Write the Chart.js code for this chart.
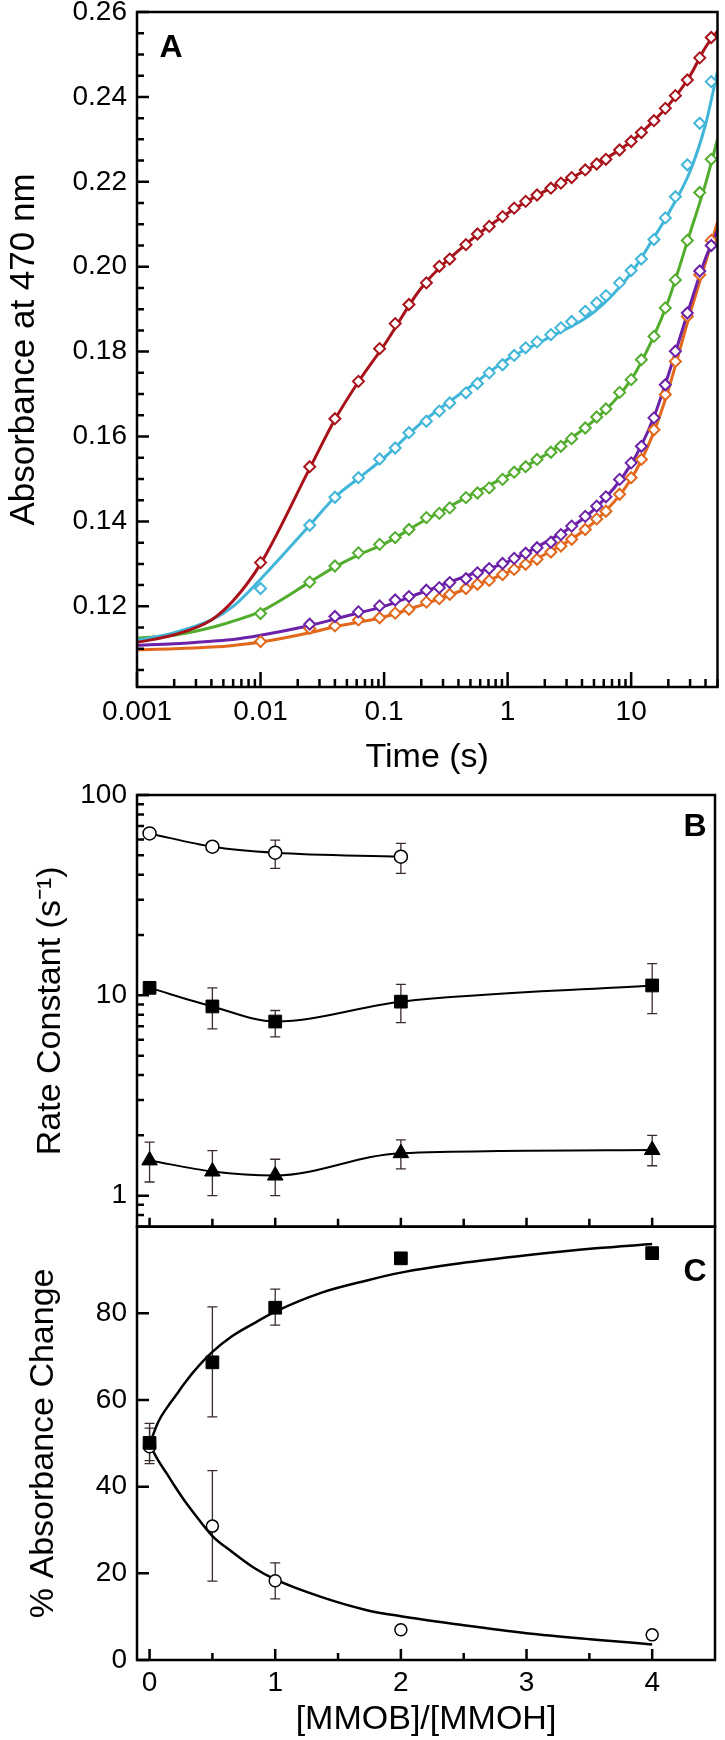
<!DOCTYPE html>
<html>
<head>
<meta charset="utf-8">
<script src="https://cdn.jsdelivr.net/npm/chart.js@4.4.1/dist/chart.umd.min.js"></script>
<style>
  html, body { margin: 0; padding: 0; background: #fff; }
  body { width: 725px; height: 1740px; position: relative; overflow: hidden; }
  canvas { position: absolute; left: 0; }
  #chartA { top: 0; }
  #chartB { top: 780px; }
  #chartC { top: 1215px; }
</style>
</head>
<body>
<canvas id="chartA" width="725" height="790"></canvas>
<canvas id="chartB" width="725" height="460"></canvas>
<canvas id="chartC" width="725" height="525"></canvas>
<script>
// ---- Panel A: absorbance traces (time in s) ----
const timePts = [0.01, 0.025, 0.04, 0.062, 0.092, 0.123, 0.159, 0.22, 0.28, 0.34, 0.46, 0.57, 0.71, 0.91, 1.13, 1.4,
                 1.73, 2.24, 2.7, 3.3, 4.25, 5.26, 6.25, 8.06, 10, 12.1, 15.3, 18.9, 22.8, 28.5, 35.9, 44.5];
const absRed    = [0.1303, 0.1529, 0.1642, 0.1730, 0.1807, 0.1866, 0.1911, 0.1962, 0.2001, 0.2018, 0.2052, 0.2077, 0.2095, 0.2118, 0.2138, 0.2154,
                   0.2169, 0.2185, 0.2197, 0.2210, 0.2228, 0.2242, 0.2253, 0.2275, 0.2295, 0.2316, 0.2344, 0.2373, 0.2403, 0.2440, 0.2492, 0.2540];
const absCyan   = [0.1242, 0.1391, 0.1457, 0.1503, 0.1547, 0.1573, 0.1609, 0.1636, 0.1660, 0.1679, 0.1703, 0.1725, 0.1750, 0.1769, 0.1791, 0.1809,
                   0.1823, 0.1840, 0.1856, 0.1871, 0.1895, 0.1915, 0.1932, 0.1962, 0.1991, 0.2018, 0.2064, 0.2115, 0.2165, 0.2240, 0.2338, 0.2436];
const absGreen  = [0.1183, 0.1257, 0.1295, 0.1326, 0.1346, 0.1362, 0.1381, 0.1409, 0.1419, 0.1432, 0.1456, 0.1467, 0.1479, 0.1499, 0.1516, 0.1529,
                   0.1546, 0.1563, 0.1577, 0.1595, 0.1620, 0.1646, 0.1665, 0.1704, 0.1734, 0.1781, 0.1836, 0.1903, 0.1969, 0.2062, 0.2175, 0.2253];
const absPurple = [null,   0.1158, 0.1176, 0.1187, 0.1201, 0.1215, 0.1223, 0.1238, 0.1244, 0.1256, 0.1265, 0.1279, 0.1289, 0.1301, 0.1313, 0.1325,
                   0.1338, 0.1351, 0.1369, 0.1389, 0.1412, 0.1436, 0.1458, 0.1499, 0.1538, 0.1577, 0.1644, 0.1722, 0.1801, 0.1891, 0.1990, 0.2050];
const absOrange = [0.1117, 0.1148, 0.1154, 0.1168, 0.1173, 0.1184, 0.1193, 0.1210, 0.1218, 0.1228, 0.1242, 0.1252, 0.1261, 0.1275, 0.1287, 0.1299,
                   0.1311, 0.1328, 0.1342, 0.1358, 0.1381, 0.1406, 0.1424, 0.1464, 0.1503, 0.1546, 0.1616, 0.1699, 0.1777, 0.1883, 0.1981, 0.2062];

// fitted curves
const fitTimes  = [0.001, 0.002, 0.004, 0.006, 0.01, 0.025, 0.04, 0.063, 0.1, 0.2, 0.5, 1, 2, 5, 10, 15, 20, 30, 40, 50];
const fitRed    = [0.1115, 0.1133, 0.1168, 0.1213, 0.1300, 0.1525, 0.1640, 0.1732, 0.1815, 0.1950, 0.2062, 0.2126, 0.2178, 0.2238, 0.2295, 0.2342, 0.2380, 0.2450, 0.2517, 0.2555];
const fitCyan   = [0.1120, 0.1138, 0.1168, 0.1200, 0.1264, 0.1391, 0.1457, 0.1503, 0.1550, 0.1632, 0.1718, 0.1782, 0.1828, 0.1893, 0.1985, 0.2065, 0.2125, 0.2225, 0.2335, 0.2460];
const fitGreen  = [0.1125, 0.1132, 0.1150, 0.1165, 0.1188, 0.1257, 0.1293, 0.1322, 0.1347, 0.1398, 0.1462, 0.1508, 0.1556, 0.1638, 0.1734, 0.1832, 0.1920, 0.2080, 0.2195, 0.2300];
const fitPurple = [0.1108, 0.1112, 0.1118, 0.1122, 0.1132, 0.1155, 0.1170, 0.1185, 0.1200, 0.1232, 0.1275, 0.1305, 0.1350, 0.1428, 0.1535, 0.1640, 0.1745, 0.1910, 0.2020, 0.2085];
const fitOrange = [0.1098, 0.1100, 0.1104, 0.1108, 0.1116, 0.1138, 0.1152, 0.1163, 0.1175, 0.1203, 0.1245, 0.1280, 0.1322, 0.1398, 0.1500, 0.1605, 0.1710, 0.1890, 0.2010, 0.2105];

const timeTickLabels = [0.001, 0.01, 0.1, 1, 10];
const absTickLabels = [0.12, 0.14, 0.16, 0.18, 0.20, 0.22, 0.24, 0.26];

// ---- Panel B: rate constants vs [MMOB]/[MMOH] ----
const ratio    = [0, 0.5, 1, 2, 4];
const kFast    = [64.3, 55.2, 51.5, 49.2];          // open circles
const kFastLo  = [null, null, 43.0, 40.6];
const kFastHi  = [null, null, 59.6, 57.3];
const kMid     = [10.9, 8.8, 7.4, 9.3, 11.2];       // filled squares
const kMidLo   = [10.3, 6.8, 6.2, 7.3, 8.1];
const kMidHi   = [11.6, 10.9, 8.4, 11.35, 14.4];
const kSlow    = [1.50, 1.32, 1.26, 1.63, 1.69];    // filled triangles
const kSlowLo  = [1.17, 1.0, 1.0, 1.36, 1.41];
const kSlowHi  = [1.85, 1.68, 1.52, 1.90, 2.0];
const rateTickLabels = [1, 10, 100];

// ---- Panel C: % absorbance change ----
const pctFilled   = [50.1, 68.7, 81.3, 92.7, 93.9];
const pctFilledLo = [46.0, 56.1, 77.3, null, null];
const pctFilledHi = [54.6, 81.5, 85.6, null, null];
const pctOpen     = [49.2, 30.9, 18.3, 7.0, 5.8];
const pctOpenLo   = [45.3, 18.2, 14.1, null, null];
const pctOpenHi   = [53.5, 43.7, 22.4, null, null];
const fitRatio    = [0, 0.07, 0.14, 0.21, 0.28, 0.35, 0.5, 0.65, 0.83, 1, 1.37, 1.73, 2, 2.46, 3, 3.55, 4];
const fitFilled   = [49.8, 55.0, 58.3, 61.1, 63.9, 66.5, 71.1, 74.6, 77.7, 80.4, 84.8, 87.6, 89.4, 91.5, 93.4, 95.0, 96.0];
const fitOpen     = [49.8, 46.0, 42.9, 39.7, 36.7, 34.0, 28.6, 25.1, 21.3, 18.6, 14.5, 11.5, 10.1, 8.2, 6.2, 4.7, 3.6];

const ratioTicks = [0, 0.5, 1, 1.5, 2, 2.5, 3, 3.5, 4];
const ratioTickLabels = [0, 1, 2, 3, 4];
const pctTicks = [0, 20, 40, 60, 80, 100];
const pctTickLabels = [0, 20, 40, 60, 80];

const RED = '#a8121a', CYAN = '#41b6d9', GREEN = '#52ad2e', PURPLE = '#6b21a8', ORANGE = '#e2681c';
const ERR = '#3b2c2c';

Chart.defaults.font.family = "'Liberation Sans', Arial, Helvetica, sans-serif";
Chart.defaults.color = '#000';
Chart.defaults.animation = false;
Chart.defaults.events = [];
Chart.defaults.plugins.legend.display = false;
Chart.defaults.plugins.tooltip.enabled = false;

function pts(xs, ys) {
    return xs.map((x, i) => ({ x, y: ys[i] })).filter(p => p.y != null);
}
function inList(list, v) {
    return list.some(t => Math.abs(t - v) <= Math.abs(t) * 1e-6 + 1e-12);
}
// 1..9 x 10^e positions inside [lo, hi] for log tick marks
function logSteps(lo, hi) {
    const out = [];
    for (let e = -4; e <= 3; e++) for (let m = 1; m <= 9; m++) {
        const v = +(m * Math.pow(10, e)).toPrecision(6);
        if (v >= lo * (1 - 1e-9) && v <= hi * (1 + 1e-9)) out.push(v);
    }
    return out;
}
const absSteps = [];
for (let i = 21; i <= 52; i++) absSteps.push(+(i * 0.005).toFixed(3));

const timeSteps = logSteps(0.001, 50);
const rateSteps = logSteps(0.71, 100);

function marker(xs, ys, color, style, r, fill, bw) {
    return { data: pts(xs, ys), showLine: false, pointStyle: style, pointRadius: r,
             pointBackgroundColor: fill, pointBorderColor: color, pointBorderWidth: bw };
}
function curve(xs, ys, color, w) {
    return { data: pts(xs, ys), borderColor: color, borderWidth: w, pointRadius: 0,
             cubicInterpolationMode: 'monotone', fill: false };
}

// frame, inward tick marks, error bars and panel letter
function framePlugin(cfg) {
    return {
        id: 'frame',
        beforeDatasetsDraw(chart) {
            const ctx = chart.ctx, xs = chart.scales.x, ys = chart.scales.y;
            ctx.save();
            ctx.strokeStyle = ERR; ctx.lineWidth = 1.3;
            (cfg.errors || []).forEach(eb => {
                eb.x.forEach((xv, i) => {
                    if (eb.lo[i] == null) return;
                    const px = xs.getPixelForValue(xv);
                    const p1 = ys.getPixelForValue(eb.lo[i]), p2 = ys.getPixelForValue(eb.hi[i]);
                    ctx.beginPath();
                    ctx.moveTo(px, p1); ctx.lineTo(px, p2);
                    ctx.moveTo(px - 5, p1); ctx.lineTo(px + 5, p1);
                    ctx.moveTo(px - 5, p2); ctx.lineTo(px + 5, p2);
                    ctx.stroke();
                });
            });
            ctx.restore();
        },
        afterDraw(chart) {
            const ctx = chart.ctx, a = chart.chartArea;
            ctx.save();
            ctx.strokeStyle = '#000'; ctx.lineWidth = 2.5; ctx.lineCap = 'butt';
            (cfg.ticks || []).forEach(t => {
                const sc = chart.scales[t.axis];
                ctx.beginPath();
                t.values.forEach(v => {
                    const len = inList(t.major, v) ? t.long : t.short;
                    const p = sc.getPixelForValue(v);
                    if (t.side === 'left') { ctx.moveTo(a.left, p); ctx.lineTo(a.left + len, p); }
                    else { ctx.moveTo(p, a.bottom); ctx.lineTo(p, a.bottom - len); }
                });
                ctx.stroke();
            });
            ctx.strokeRect(a.left, a.top, a.right - a.left, a.bottom - a.top);
            if (cfg.letter) {
                ctx.fillStyle = '#000';
                ctx.font = "bold 32px 'Liberation Sans', Arial, sans-serif";
                ctx.textAlign = 'center'; ctx.textBaseline = 'middle';
                ctx.fillText(cfg.letter.text, cfg.letter.x, cfg.letter.y);
            }
            ctx.restore();
        }
    };
}

const noGrid = { display: false, drawTicks: false };
function yFit(w) { return s => { s.width = w; s.paddingTop = 0; s.paddingBottom = 0; }; }
function xFit(h) { return s => { s.height = h; s.paddingLeft = 0; s.paddingRight = 0; }; }

// ---------- Panel A ----------
new Chart(document.getElementById('chartA'), {
    type: 'line',
    data: { datasets: [
        marker(timePts, absRed, RED, 'rectRot', 5.5, '#fff', 2),
        marker(timePts, absCyan, CYAN, 'rectRot', 5.5, '#fff', 2),
        marker(timePts, absGreen, GREEN, 'rectRot', 5.5, '#fff', 2),
        marker(timePts, absPurple, PURPLE, 'rectRot', 5.5, '#fff', 2),
        marker(timePts, absOrange, ORANGE, 'rectRot', 5.5, '#fff', 2),
        curve(fitTimes, fitRed, RED, 3),
        curve(fitTimes, fitCyan, CYAN, 3),
        curve(fitTimes, fitGreen, GREEN, 3),
        curve(fitTimes, fitPurple, PURPLE, 3),
        curve(fitTimes, fitOrange, ORANGE, 3)
    ]},
    options: {
        responsive: false,
        layout: { padding: { top: 12, right: 2, left: 0, bottom: 0 } },
        scales: {
            x: {
                type: 'logarithmic', min: 0.001, max: 50,
                afterBuildTicks: s => { s.ticks = timeSteps.map(v => ({ value: v })); },
                afterFit: xFit(103),
                grid: noGrid, border: { display: false },
                ticks: { autoSkip: false, maxRotation: 0, padding: 8, font: { size: 28 },
                         callback: v => inList(timeTickLabels, v) ? String(v) : '' },
                title: { display: true, text: 'Time (s)', font: { size: 34 }, padding: { top: 0, bottom: 12 } }
            },
            y: {
                type: 'linear', min: 0.101, max: 0.26,
                afterBuildTicks: s => { s.ticks = absSteps.map(v => ({ value: v })); },
                afterFit: yFit(137),
                grid: noGrid, border: { display: false },
                ticks: { autoSkip: false, padding: 10, font: { size: 28 },
                         callback: v => inList(absTickLabels, v) ? v.toFixed(2) : '' },
                title: { display: true, text: 'Absorbance at 470 nm', font: { size: 35 }, padding: { top: 3, bottom: 0 } }
            }
        }
    },
    plugins: [framePlugin({
        ticks: [
            { axis: 'y', side: 'left', values: absSteps, major: absTickLabels, long: 12, short: 7 },
            { axis: 'x', side: 'bottom', values: timeSteps, major: timeTickLabels, long: 15, short: 8 }
        ],
        letter: { text: 'A', x: 171, y: 48 }
    })]
});

// ---------- Panel B ----------
new Chart(document.getElementById('chartB'), {
    type: 'line',
    data: { datasets: [
        marker(ratio, kFast, '#000', 'circle', 6.5, '#fff', 1.5),
        marker(ratio, kMid, '#000', 'rect', 9, '#000', 1),
        marker(ratio, kSlow, '#000', 'triangle', 9, '#000', 1),
        curve(ratio, kFast, '#000', 2),
        curve(ratio, kMid, '#000', 2),
        curve(ratio, kSlow, '#000', 2)
    ]},
    options: {
        responsive: false,
        layout: { padding: { top: 15, right: 2, left: 0, bottom: 0 } },
        scales: {
            x: {
                type: 'linear', min: -0.1, max: 4.5,
                afterFit: xFit(13.3),
                grid: noGrid, border: { display: false },
                ticks: { display: false }
            },
            y: {
                type: 'logarithmic', min: 0.71, max: 100,
                afterBuildTicks: s => { s.ticks = rateSteps.map(v => ({ value: v })); },
                afterFit: yFit(137),
                grid: noGrid, border: { display: false },
                ticks: { autoSkip: false, padding: 10, font: { size: 28 },
                         callback: v => inList(rateTickLabels, v) ? String(v) : '' },
                title: { display: true, text: 'Rate Constant (s\u207B\u00B9)', font: { size: 34 }, padding: { top: 30, bottom: 0 } }
            }
        }
    },
    plugins: [framePlugin({
        errors: [
            { x: ratio, lo: kFastLo, hi: kFastHi },
            { x: ratio, lo: kMidLo, hi: kMidHi },
            { x: ratio, lo: kSlowLo, hi: kSlowHi }
        ],
        ticks: [
            { axis: 'y', side: 'left', values: rateSteps, major: rateTickLabels, long: 12, short: 7 },
            { axis: 'x', side: 'bottom', values: ratioTicks, major: ratioTickLabels, long: 9, short: 8 }
        ],
        letter: { text: 'B', x: 695, y: 47 }
    })]
});

// ---------- Panel C ----------
new Chart(document.getElementById('chartC'), {
    type: 'line',
    data: { datasets: [
        marker(ratio, pctFilled, '#000', 'rect', 9, '#000', 1),
        marker(ratio, pctOpen, '#000', 'circle', 6, '#fff', 1.5),
        curve(fitRatio, fitFilled, '#000', 2.5),
        curve(fitRatio, fitOpen, '#000', 2.5)
    ]},
    options: {
        responsive: false,
        layout: { padding: { top: 11.7, right: 2, left: 0, bottom: 0 } },
        scales: {
            x: {
                type: 'linear', min: -0.1, max: 4.5,
                afterBuildTicks: s => { s.ticks = ratioTicks.map(v => ({ value: v })); },
                afterFit: xFit(80),
                grid: noGrid, border: { display: false },
                ticks: { autoSkip: false, maxRotation: 0, padding: 6, font: { size: 28 },
                         callback: v => inList(ratioTickLabels, v) || v === 0 ? String(v) : '' },
                title: { display: true, text: '[MMOB]/[MMOH]', font: { size: 34 }, padding: { top: 0, bottom: 0 } }
            },
            y: {
                type: 'linear', min: 0, max: 100,
                afterBuildTicks: s => { s.ticks = pctTicks.map(v => ({ value: v })); },
                afterFit: yFit(137),
                grid: noGrid, border: { display: false },
                ticks: { autoSkip: false, padding: 10, font: { size: 28 },
                         callback: v => inList(pctTickLabels, v) || v === 0 ? String(v) : '' },
                title: { display: true, text: '% Absorbance Change', font: { size: 34 }, padding: { top: 23, bottom: 0 } }
            }
        }
    },
    plugins: [framePlugin({
        errors: [
            { x: ratio, lo: pctFilledLo, hi: pctFilledHi },
            { x: ratio, lo: pctOpenLo, hi: pctOpenHi }
        ],
        ticks: [
            { axis: 'y', side: 'left', values: pctTicks, major: pctTicks, long: 12, short: 12 },
            { axis: 'x', side: 'bottom', values: ratioTicks, major: ratioTickLabels, long: 11, short: 7 }
        ],
        letter: { text: 'C', x: 695, y: 57 }
    })]
});
</script>
</body>
</html>
